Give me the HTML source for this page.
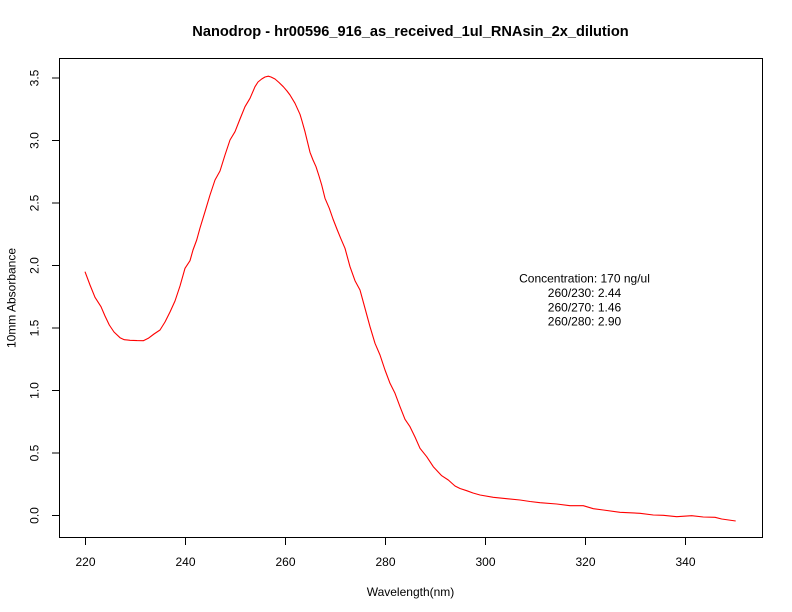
<!DOCTYPE html>
<html>
<head>
<meta charset="utf-8">
<style>
html,body{margin:0;padding:0;background:#fff;}
svg{display:block;}
text{font-family:"Liberation Sans",Arial,sans-serif;fill:#000;}
</style>
</head>
<body>
<svg width="792" height="612" viewBox="0 0 792 612" xmlns="http://www.w3.org/2000/svg">
<rect width="792" height="612" fill="#fff"/>
<text x="410.5" y="36" font-size="14.6" font-weight="bold" text-anchor="middle">Nanodrop - hr00596_916_as_received_1ul_RNAsin_2x_dilution</text>
<rect x="59.5" y="58.5" width="703" height="479" fill="none" stroke="#000" stroke-width="1"/>
<g stroke="#000" stroke-width="1">
<line x1="85.5" y1="538" x2="85.5" y2="545"/>
<line x1="185.5" y1="538" x2="185.5" y2="545"/>
<line x1="285.5" y1="538" x2="285.5" y2="545"/>
<line x1="385.5" y1="538" x2="385.5" y2="545"/>
<line x1="485.5" y1="538" x2="485.5" y2="545"/>
<line x1="585.5" y1="538" x2="585.5" y2="545"/>
<line x1="685.5" y1="538" x2="685.5" y2="545"/>
<line x1="52" y1="515.5" x2="59" y2="515.5"/>
<line x1="52" y1="453" x2="59" y2="453"/>
<line x1="52" y1="390.5" x2="59" y2="390.5"/>
<line x1="52" y1="328" x2="59" y2="328"/>
<line x1="52" y1="265.5" x2="59" y2="265.5"/>
<line x1="52" y1="203" x2="59" y2="203"/>
<line x1="52" y1="140.5" x2="59" y2="140.5"/>
<line x1="52" y1="78" x2="59" y2="78"/>
</g>
<g font-size="12" text-anchor="middle">
<text x="85.5" y="566">220</text>
<text x="185.5" y="566">240</text>
<text x="285.5" y="566">260</text>
<text x="385.5" y="566">280</text>
<text x="485.5" y="566">300</text>
<text x="585.5" y="566">320</text>
<text x="685.5" y="566">340</text>
</g>
<g font-size="12" text-anchor="middle">
<text transform="translate(38.5,515.5) rotate(-90)">0.0</text>
<text transform="translate(38.5,453) rotate(-90)">0.5</text>
<text transform="translate(38.5,390.5) rotate(-90)">1.0</text>
<text transform="translate(38.5,328) rotate(-90)">1.5</text>
<text transform="translate(38.5,265.5) rotate(-90)">2.0</text>
<text transform="translate(38.5,203) rotate(-90)">2.5</text>
<text transform="translate(38.5,140.5) rotate(-90)">3.0</text>
<text transform="translate(38.5,78) rotate(-90)">3.5</text>
</g>
<text x="410.5" y="596" font-size="12" text-anchor="middle">Wavelength(nm)</text>
<text transform="translate(15.5,298) rotate(-90)" font-size="12" text-anchor="middle">10mm Absorbance</text>
<g font-size="12" text-anchor="middle">
<text x="584.5" y="282.5">Concentration: 170 ng/ul</text>
<text x="584.5" y="297">260/230: 2.44</text>
<text x="584.5" y="311.3">260/270: 1.46</text>
<text x="584.5" y="325.6">260/280: 2.90</text>
</g>
<polyline fill="none" stroke="#ff0000" stroke-width="1.1" stroke-linejoin="round"
points="85,271.7 90,285 95,297.3 101,306.7 105,316 109.3,325 114,332 120,337.7 124.3,339.7 130,340.3 137,340.6 143.3,340.7 148.3,338.3 154,334 160,330 165,322 170,312 175,301 180,286 185,268.3 190,260.7 193,250 196.7,240 200,228 205,211.7 210,195 215,180 220,171 225,155 230,140 235,131.7 240,119 245,106.7 250,98.3 255,86.7 258,82 261.7,79 265,77 268.3,76.2 271,77 275,79 279,82.5 283.3,86.7 287,91 290,95 295,103.3 300,114.3 302,121 305,131.7 310,152.3 313,160 316,166.7 319,176 321.7,185 325,198.3 329.3,208.3 333,219 337.3,230 340.7,238.3 345,248.3 350,266.7 355,280.7 360,290 365,308.3 370,326.7 375,343.3 380,355 385,370 390,383.3 395,393.3 400,406.7 405,419.3 410,426.7 415,437 420,448.3 426.7,456.7 433.3,466.7 441.7,475.7 448.3,480 455,486 460,488.5 466.7,490.7 473,493 480,495 493.3,497.3 506.7,498.7 520,500 530,501.5 540,502.7 556.7,504 570,505.7 583.3,505.7 593.3,508.7 603.3,510 620,512.3 640,513.3 653.3,515 663.3,515.3 676.7,516.7 691.7,515.7 703.3,517 715,517.3 721.7,519 735.7,521"/>
</svg>
</body>
</html>
